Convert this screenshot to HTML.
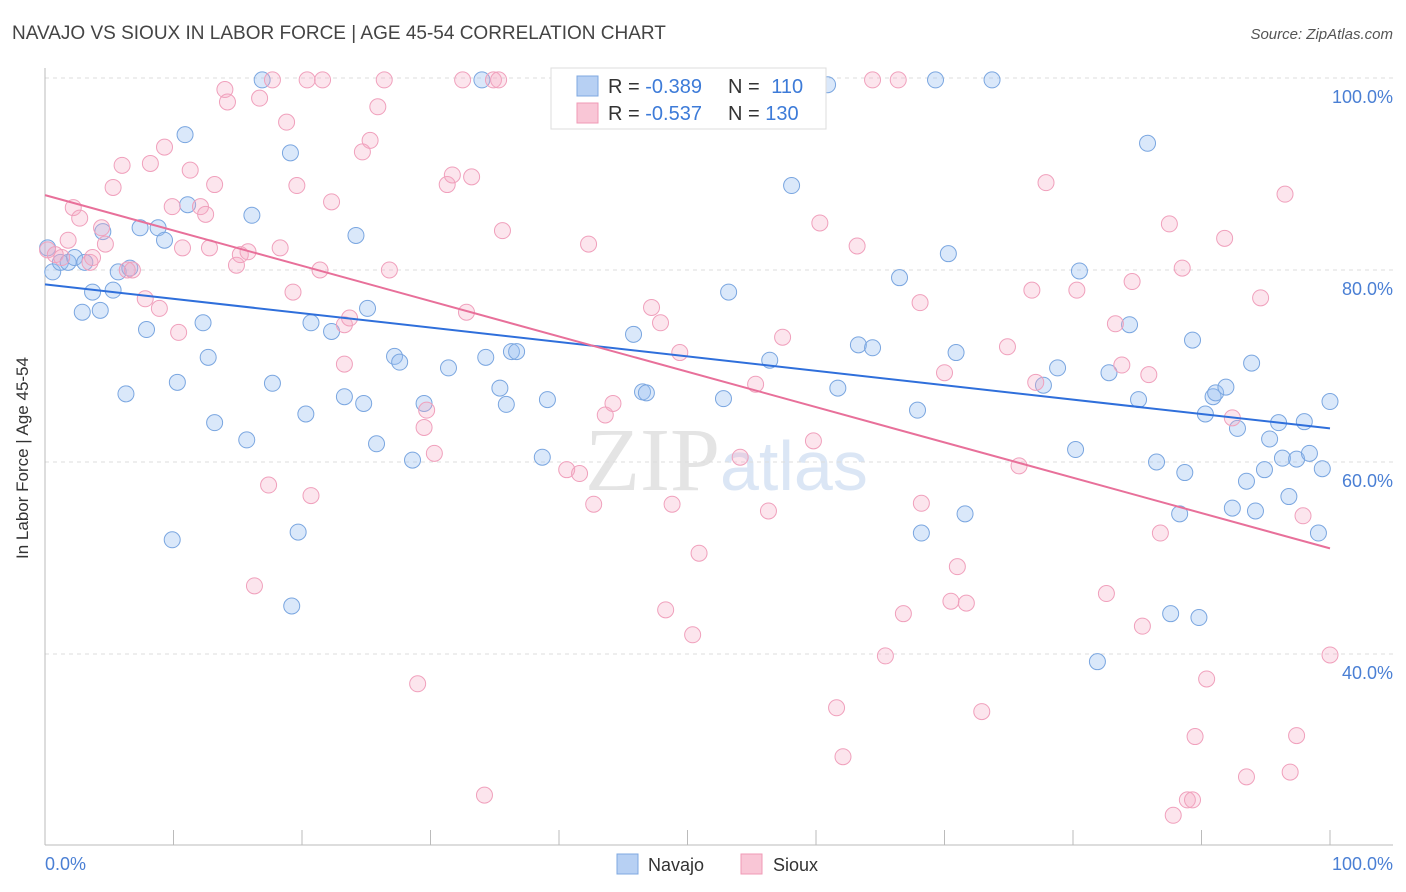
<!DOCTYPE html>
<html><head><meta charset="utf-8"><style>
body{margin:0;background:#fff;font-family:"Liberation Sans",sans-serif}
#wrap{position:relative;width:1406px;height:892px;overflow:hidden}
</style></head><body>
<div id="wrap">
<svg id="svg" width="1406" height="892" xmlns="http://www.w3.org/2000/svg">
<text x="12" y="39" font-size="19" fill="#444">NAVAJO VS SIOUX IN LABOR FORCE | AGE 45-54 CORRELATION CHART</text>
<text x="1393" y="39" font-size="15" fill="#555" font-style="italic" text-anchor="end">Source: ZipAtlas.com</text>
<text x="720" y="490" font-size="90" fill="#e4e4e4" text-anchor="end" font-family="Liberation Serif">ZIP</text>
<text x="720" y="490" font-size="70" fill="#dbe6f5">atlas</text>
<text x="28" y="458" font-size="17" fill="#333" text-anchor="middle" transform="rotate(-90 28 458)">In Labor Force | Age 45-54</text>
<g id="grid"></g><g id="pts"></g><g id="trend"></g>
<g>
<rect x="551" y="68" width="275" height="61" fill="#fff" stroke="#ddd"/>
<rect x="577" y="76" width="21" height="20" fill="#b7d0f3" stroke="#7fa8e0"/>
<rect x="577" y="103" width="21" height="20" fill="#f9c6d6" stroke="#f09ab6"/>
<text x="608" y="93" font-size="20" fill="#333">R = <tspan fill="#3d7bd8">-0.389</tspan></text>
<text x="728" y="93" font-size="20" fill="#333">N = <tspan fill="#3d7bd8" dx="6">110</tspan></text>
<text x="608" y="120" font-size="20" fill="#333">R = <tspan fill="#3d7bd8">-0.537</tspan></text>
<text x="728" y="120" font-size="20" fill="#333">N = <tspan fill="#3d7bd8">130</tspan></text>
</g>
<g>
<rect x="617" y="854" width="21" height="20" fill="#b7d0f3" stroke="#7fa8e0"/>
<text x="648" y="871" font-size="18" fill="#333">Navajo</text>
<rect x="741" y="854" width="21" height="20" fill="#f9c6d6" stroke="#f09ab6"/>
<text x="773" y="871" font-size="18" fill="#333">Sioux</text>
</g>
<text x="45" y="870" font-size="18" fill="#4a7fd4">0.0%</text>
<text x="1393" y="870" font-size="18" fill="#4a7fd4" text-anchor="end">100.0%</text>
</svg>
</div>
<script>
const navajoX=[0.2,0.6,1.2,1.8,2.3,3.1,3.7,4.3,2.9,4.5,5.3,5.7,6.6,6.3,7.4,7.9,8.8,9.3,10.3,10.9,11.1,9.9,12.3,12.7,13.2,15.7,16.1,16.9,17.7,19.1,19.7,19.2,20.3,20.7,22.3,23.3,24.2,24.8,25.1,25.8,27.2,27.6,28.6,29.5,31.4,34.0,34.3,35.4,35.9,36.3,36.7,38.7,39.1,40.5,45.8,46.5,46.8,52.2,52.8,53.2,56.4,58.1,60.9,61.7,63.3,64.4,66.5,67.9,68.2,69.3,70.3,70.9,71.6,73.7,77.7,78.8,80.2,80.5,81.9,82.8,84.4,85.1,85.8,86.5,87.6,88.3,88.7,89.3,89.8,90.3,90.9,91.1,91.9,92.8,92.4,93.5,93.9,94.2,94.9,95.3,96.0,96.3,96.8,97.4,98.0,98.4,99.1,99.4,100];
const navajoY=[82.3,79.8,80.8,80.8,81.3,80.8,77.7,75.8,75.6,84.0,77.9,79.8,80.2,67.1,84.4,73.8,84.4,83.1,68.3,94.1,86.8,51.9,74.5,70.9,64.1,62.3,85.7,99.8,68.2,92.2,52.7,45.0,65.0,74.5,73.6,66.8,83.6,66.1,76.0,61.9,71.0,70.4,60.2,66.1,69.8,99.8,70.9,67.7,66.0,71.5,71.5,60.5,66.5,99.8,73.3,67.3,67.2,99.8,66.6,77.7,70.6,88.8,99.3,67.7,72.2,71.9,79.2,65.4,52.6,99.8,81.7,71.4,54.6,99.8,68.0,69.8,61.3,79.9,39.2,69.3,74.3,66.5,93.2,60.0,44.2,54.6,58.9,72.7,43.8,65.0,66.8,67.2,67.8,63.5,55.2,58.0,70.3,54.9,59.2,62.4,64.1,60.4,56.4,60.3,64.2,60.9,52.6,59.3,66.3];
const siouxX=[0.2,0.8,1.3,1.8,2.2,2.7,3.5,3.7,4.4,4.7,5.3,6.0,6.4,6.8,7.8,8.2,8.9,9.3,9.9,10.4,10.7,11.3,12.1,12.5,12.8,13.2,14.0,14.2,14.9,15.2,15.8,16.7,17.4,16.3,17.7,18.3,18.8,19.3,19.6,20.4,20.7,21.6,21.4,22.3,23.3,23.7,23.3,24.7,25.3,25.9,26.4,26.8,29.0,29.5,29.7,30.3,31.3,31.7,32.5,32.8,33.2,34.2,34.9,35.3,35.6,40.6,41.6,42.3,42.7,43.6,44.2,47.2,47.9,48.3,48.8,49.4,50.4,50.9,54.1,55.3,56.3,57.4,59.8,60.3,61.6,62.1,63.2,64.4,65.4,66.4,66.8,68.1,68.2,70.0,71.0,70.5,71.7,72.9,74.9,75.8,76.8,77.1,77.9,80.3,82.6,83.3,83.8,84.6,85.4,85.9,86.8,87.5,87.8,88.5,88.9,89.3,89.5,90.4,91.8,92.4,93.5,94.6,96.5,96.9,97.4,97.9,100];
const siouxY=[82.1,81.6,81.3,83.1,86.5,85.4,80.8,81.3,84.4,82.7,88.6,90.9,80.0,80.0,77.0,91.1,76.0,92.8,86.6,73.5,82.3,90.4,86.6,85.8,82.3,88.9,98.8,97.5,80.5,81.6,81.9,97.9,57.6,47.1,99.8,82.3,95.4,77.7,88.8,99.8,56.5,99.8,80.0,87.1,74.3,75.0,70.2,92.3,93.5,97.0,99.8,80.0,36.9,63.6,65.4,60.9,88.9,89.9,99.8,75.6,89.7,25.3,99.8,99.8,84.1,59.2,58.8,82.7,55.6,64.9,66.1,76.1,74.5,44.6,55.6,71.4,42.0,50.5,60.5,68.1,54.9,73.0,62.2,84.9,34.4,29.3,82.5,99.8,39.8,99.8,44.2,76.6,55.7,69.3,49.1,45.5,45.3,34.0,72.0,59.6,77.9,68.3,89.1,77.9,46.3,74.4,70.1,78.8,42.9,69.1,52.6,84.8,23.2,80.2,24.8,24.8,31.4,37.4,83.3,64.6,27.2,77.1,87.9,27.7,31.5,54.4,39.9];
const trendNavajo=[78.5,63.5];
const trendSioux=[87.8,51.0];
const yTicks=[40,60,80,100];
const yTickLabels=["40.0%","60.0%","80.0%","100.0%"];
const xTicks=[0,10,20,30,40,50,60,70,80,90,100];

const NS="http://www.w3.org/2000/svg";
function xs(v){return 45+v*12.85;}
function ys(v){return 1038-v*9.6;}
function mk(tag,attrs,parent){const e=document.createElementNS(NS,tag);for(const k in attrs)e.setAttribute(k,attrs[k]);parent.appendChild(e);return e;}
const svg=document.getElementById('svg');
const grid=document.getElementById('grid');
yTicks.forEach((t,i)=>{
  const l=mk('line',{x1:45,x2:1393,y1:ys(t),y2:ys(t),stroke:'#ddd','stroke-dasharray':'4,4'},grid);
  
  
  const tx=mk('text',{x:1393,y:ys(t)+25,'font-size':18,fill:'#4a7fd4','text-anchor':'end'},grid);
  tx.textContent=yTickLabels[i];
  
  
});
const ax=mk('line',{x1:45,x2:45,y1:68,y2:845,stroke:'#bbb'},grid);


const bx=mk('line',{x1:45,x2:1393,y1:845,y2:845,stroke:'#bbb'},grid);


xTicks.forEach(t=>{
  const l=mk('line',{x1:xs(t),x2:xs(t),y1:830,y2:845,stroke:'#bbb'},grid);
  
  
});
const pts=document.getElementById('pts');
navajoX.forEach((x,i)=>{
  const c=mk('circle',{cx:xs(x),cy:ys(navajoY[i]),r:8,fill:'rgba(150,188,240,0.35)',stroke:'#7aa6e0','stroke-width':1},pts);
  
  
});
siouxX.forEach((x,i)=>{
  const c=mk('circle',{cx:xs(x),cy:ys(siouxY[i]),r:8,fill:'rgba(246,170,196,0.3)',stroke:'#f0a0bc','stroke-width':1},pts);
  
  
});
const tr=document.getElementById('trend');
const t1=mk('line',{x1:xs(0),y1:ys(trendNavajo[0]),x2:xs(100),y2:ys(trendNavajo[1]),stroke:'#2f6fdb','stroke-width':2},tr);


const t2=mk('line',{x1:xs(0),y1:ys(trendSioux[0]),x2:xs(100),y2:ys(trendSioux[1]),stroke:'#e8709a','stroke-width':2},tr);


</script>
</body></html>
